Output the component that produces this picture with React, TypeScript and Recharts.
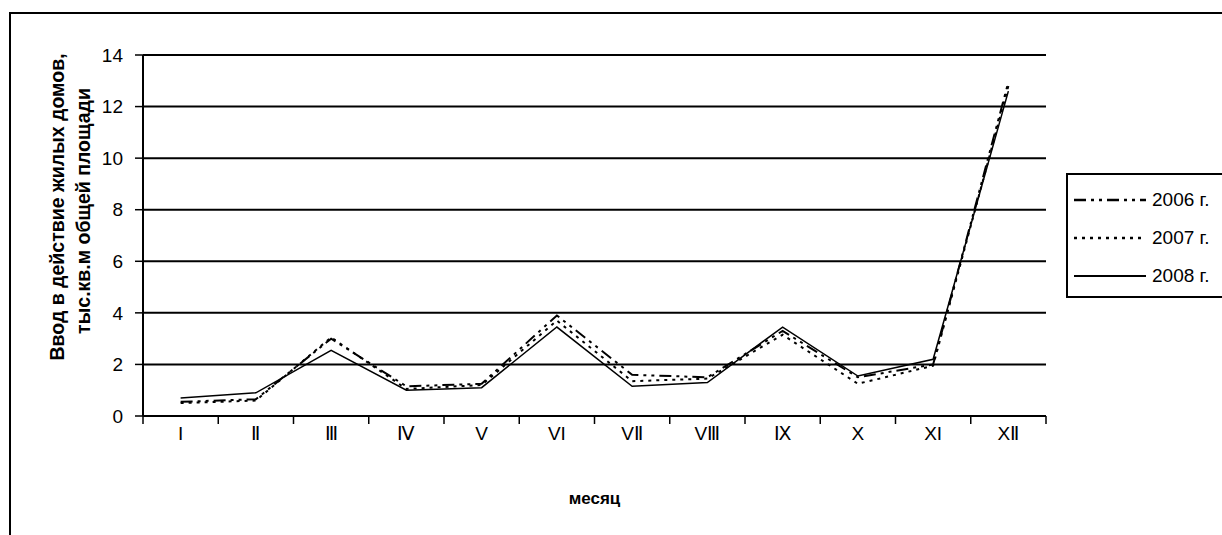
import { LineChart, Line, XAxis, YAxis, CartesianGrid } from 'recharts'

const months = ['I', 'Ⅱ', 'Ⅲ', 'Ⅳ', 'V', 'VI', 'VⅡ', 'VⅢ', 'Ⅸ', 'X', 'XI', 'XⅡ']
const y2006 = [0.55, 0.65, 3.0, 1.15, 1.25, 3.9, 1.6, 1.5, 3.3, 1.5, 2.0, 12.95]
const y2007 = [0.5, 0.6, 3.05, 1.05, 1.2, 3.7, 1.35, 1.45, 3.15, 1.25, 1.95, 12.8]
const y2008 = [0.7, 0.9, 2.55, 1.0, 1.1, 3.45, 1.15, 1.3, 3.45, 1.55, 2.2, 12.6]
const yTicks = [0, 2, 4, 6, 8, 10, 12, 14]
const xTicks = [0, 1, 2, 3, 4, 5, 6, 7, 8, 9, 10, 11, 12]

const data = months.map((m, i) => ({
  x: i + 0.5,
  month: m,
  y2006: y2006[i],
  y2007: y2007[i],
  y2008: y2008[i],
}))

const FONT = '"Liberation Sans", Arial, sans-serif'
const PLOT_LEFT = 143
const PLOT_RIGHT = 1046
const BAND = (PLOT_RIGHT - PLOT_LEFT) / months.length

const series = [
  { key: 'y2006', name: '2006 г.', dash: '12 5 3 5 3 5', width: 2 },
  { key: 'y2007', name: '2007 г.', dash: '3 5', width: 2 },
  { key: 'y2008', name: '2008 г.', dash: undefined, width: 1.5 },
]

function MonthTick(props: any) {
  const { x, y, payload } = props
  if (payload.value >= months.length) return null
  return (
    <text x={x + BAND / 2} y={y + 14} textAnchor="middle" fontSize={19} fontFamily={FONT} fill="#000">
      {months[payload.value]}
    </text>
  )
}

function YTitle() {
  return (
    <g fontFamily={FONT} fontWeight="bold" fontSize={19.5} fill="#000">
      <text x={64} y={207} textAnchor="middle" transform="rotate(-90 64 207)">
        Ввод в действие жилых домов,
      </text>
      <text x={90} y={211} textAnchor="middle" transform="rotate(-90 90 211)">
        тыс.кв.м общей площади
      </text>
    </g>
  )
}

function LegendBox() {
  return (
    <div style={{
      position: 'absolute',
      left: 1066,
      top: 173,
      border: '2px solid #000',
      background: '#fff',
      width: 170,
      height: 125,
      boxSizing: 'border-box',
      paddingTop: 6,
      fontFamily: FONT,
      fontSize: 19,
    }}>
      {series.map((s) => (
        <div key={s.key} style={{ display: 'flex', alignItems: 'center', height: 38 }}>
          <svg width={78} height={10} style={{ marginLeft: 6 }}>
            <line x1={0} y1={5} x2={72} y2={5} stroke="#000" strokeWidth={s.width + 0.5} strokeDasharray={s.dash} />
          </svg>
          <span>{s.name}</span>
        </div>
      ))}
    </div>
  )
}

export default function App() {
  return (
    <div style={{ position: 'absolute', left: 0, top: 0, width: 1222, height: 535, overflow: 'hidden', background: '#fff' }}>
      <div style={{
        position: 'absolute', left: 9, top: 12, width: 1400, height: 700,
        border: '2px solid #000',
      }} />
      <div style={{ position: 'absolute', left: 0, top: 0 }}>
        <LineChart
          width={1222}
          height={535}
          data={data}
          margin={{ top: 55, right: 1222 - PLOT_RIGHT, bottom: 89, left: 100 }}
        >
          <CartesianGrid vertical={false} stroke="#000" strokeWidth={2} />
          <XAxis
            type="number"
            dataKey="x"
            domain={[0, 12]}
            ticks={xTicks}
            interval={0}
            height={30}
            axisLine={{ stroke: '#000', strokeWidth: 2 }}
            tickLine={{ stroke: '#000', strokeWidth: 1.5 }}
            tickSize={8}
            tick={<MonthTick />}
            label={{
              value: 'месяц',
              position: 'insideBottom',
              offset: -58,
              fontFamily: FONT,
              fontWeight: 'bold',
              fontSize: 17,
              fill: '#000',
            }}
          />
          <YAxis
            domain={[0, 14]}
            ticks={yTicks}
            interval={0}
            width={43}
            axisLine={{ stroke: '#000', strokeWidth: 2 }}
            tickLine={{ stroke: '#000', strokeWidth: 1.5 }}
            tickSize={8}
            tickMargin={12}
            tick={{ fill: '#000', fontSize: 19, fontFamily: FONT }}
            label={{ content: () => <YTitle /> }}
          />
          {series.map((s) => (
            <Line
              key={s.key}
              type="linear"
              dataKey={s.key}
              name={s.name}
              stroke="#000"
              strokeWidth={s.width}
              strokeDasharray={s.dash}
              dot={false}
              activeDot={false}
              isAnimationActive={false}
            />
          ))}
        </LineChart>
      </div>
      <LegendBox />
    </div>
  )
}
